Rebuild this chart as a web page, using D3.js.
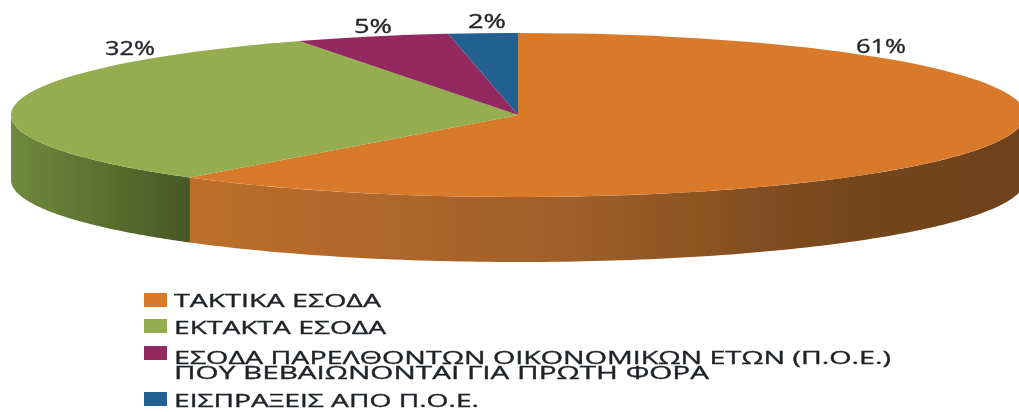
<!DOCTYPE html>
<html><head><meta charset="utf-8">
<script src="https://cdn.jsdelivr.net/npm/d3@7"></script>
<style>html,body{margin:0;padding:0;background:#fff}svg{display:block}text{font-family:"Open Sans",sans-serif;fill:#1f2226;stroke:#1f2226;stroke-width:0.35px}</style>
</head><body><svg id="c" width="1019" height="412"></svg>
<script>
const categories=["ΤΑΚΤΙΚΑ ΕΣΟΔΑ","ΕΚΤΑΚΤΑ ΕΣΟΔΑ","ΕΣΟΔΑ ΠΑΡΕΛΘΟΝΤΩΝ ΟΙΚΟΝΟΜΙΚΩΝ ΕΤΩΝ (Π.Ο.Ε.)|ΠΟΥ ΒΕΒΑΙΩΝΟΝΤΑΙ ΓΙΑ ΠΡΩΤΗ ΦΟΡΑ","ΕΙΣΠΡΑΞΕΙΣ ΑΠΟ Π.Ο.Ε."];
const values=[61.2,31.7,4.9,2.2];
const colors=["#d97a2b","#93ad4f","#932a5e","#24608f"];
const labelPos=[[881,46],[130,48],[373,26],[487,21]];
const labelWidth=[50,50,38,38];
const legendY=[293,319,346,392];
const legendBase=[[307],[334],[364,379],[407]];
const legendWidth=[[207],[212],[717,535],[305]];

const svg=d3.select("#c");
const cx=518,cy=115,rx=507,ry=82,depth=65;
const defs=svg.append("defs");
defs.append("filter").attr("id","soft").attr("x","-2%").attr("y","-5%").attr("width","104%").attr("height","110%")
 .append("feGaussianBlur").attr("stdDeviation",0.6);
const grad=(id,stops,x1,x2)=>{
 const g=defs.append("linearGradient").attr("id",id).attr("gradientUnits","userSpaceOnUse")
  .attr("x1",x1).attr("x2",x2).attr("y1",0).attr("y2",0);
 stops.forEach(s=>g.append("stop").attr("offset",s[0]).attr("stop-color",s[1]));
};
grad("side0",[[0,"#bd6e2b"],[0.45,"#a0602a"],[0.8,"#74451c"],[1,"#6e421b"]],190,1025);
grad("side1",[[0,"#6f8a3c"],[0.5,"#5c7030"],[1,"#475825"]],11,190);

const pie=d3.pie().sort(null).value(d=>d)(values);
const root=svg.append("g").attr("filter","url(#soft)");
const px=a=>cx+rx*Math.sin(a), py=a=>cy-ry*Math.cos(a);

const frontA=Math.PI/2, frontB=3*Math.PI/2;
const rim=d3.line().x(d=>d[0]).y(d=>d[1]);
pie.forEach((p,i)=>{
 const a0=Math.max(p.startAngle,frontA),a1=Math.min(p.endAngle,frontB);
 if(a1<=a0) return;
 const ang=d3.range(0,121).map(k=>a0+(a1-a0)*k/120);
 const pts=ang.map(a=>[px(a),py(a)]).concat(ang.slice().reverse().map(a=>[px(a),py(a)+depth]));
 root.append("path").attr("d",rim(pts)+"Z").attr("fill",`url(#side${i})`);
});
const arc=d3.arc().innerRadius(0).outerRadius(rx);
const face=root.append("g").attr("transform",`translate(${cx},${cy}) scale(1,${ry/rx})`);
face.selectAll("path").data(pie).join("path").attr("d",arc).attr("fill",(d,i)=>colors[i]);

const labels=values.map(v=>Math.round(v)+"%");
svg.append("g").attr("filter","url(#soft)").selectAll("text").data(labels).join("text")
 .attr("x",(d,i)=>labelPos[i][0]-labelWidth[i]/2).attr("y",(d,i)=>labelPos[i][1]).attr("dy","0.35em")
 .attr("font-size",20).attr("textLength",(d,i)=>labelWidth[i]).attr("lengthAdjust","spacingAndGlyphs").text(d=>d);

const leg=svg.append("g").attr("filter","url(#soft)");
categories.forEach((c,i)=>{
 leg.append("rect").attr("x",144).attr("y",legendY[i]).attr("width",23).attr("height",14).attr("fill",colors[i]);
 c.split("|").forEach((t,j)=>{
  leg.append("text").attr("x",174).attr("y",legendBase[i][j]).attr("font-size",18)
   .attr("textLength",legendWidth[i][j]).attr("lengthAdjust","spacingAndGlyphs").text(t);
 });
});
</script></body></html>
